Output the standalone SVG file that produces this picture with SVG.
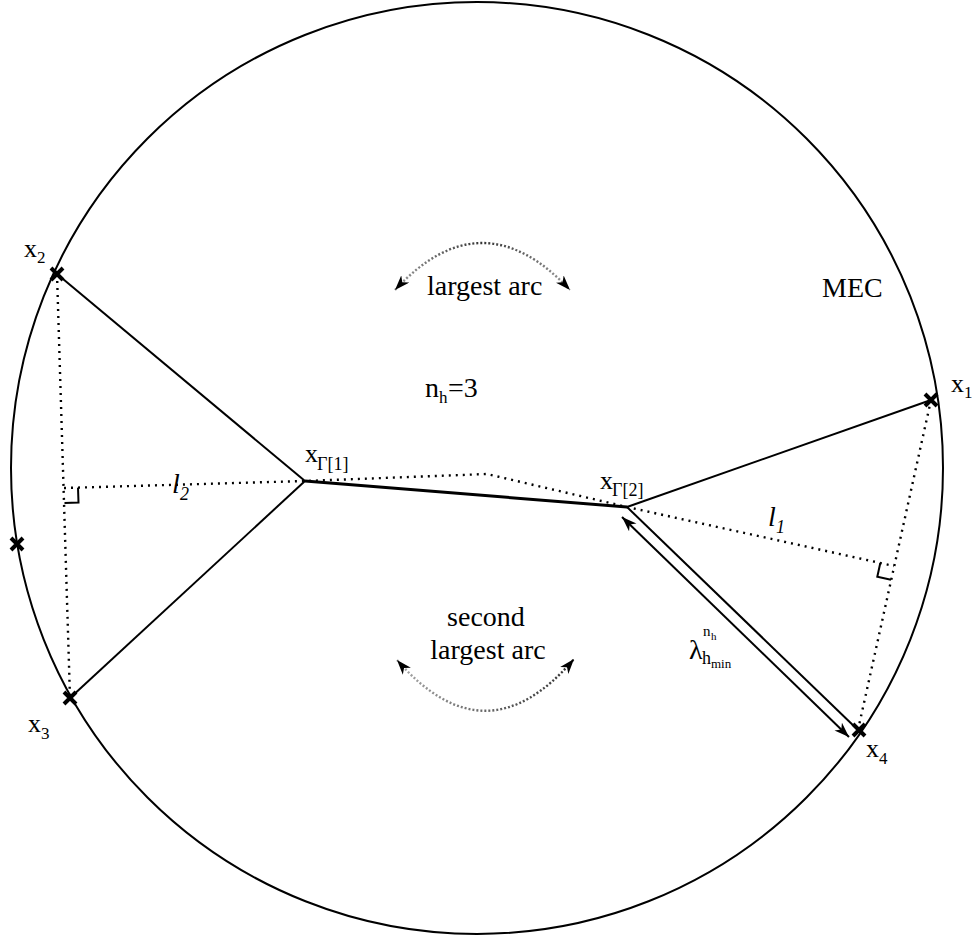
<svg xmlns="http://www.w3.org/2000/svg" width="976" height="936" viewBox="0 0 976 936">
<style>
.t{font-family:"Liberation Serif","DejaVu Serif","Times New Roman",serif;fill:#000}
.solid{stroke:#000;stroke-width:2;fill:none}
.dot{stroke:#000;stroke-width:2.4;stroke-dasharray:2 5;fill:none}
</style>
<defs>
<marker id="ah" viewBox="0 0 14 10" refX="14" refY="5" markerWidth="15" markerHeight="11" markerUnits="userSpaceOnUse" orient="auto-start-reverse">
<path d="M0,0 L14,5 L0,10 L4,5 z" fill="#000"/>
</marker>
<path id="cross" d="M-6,-6 L6,6 M-6,6 L6,-6" stroke="#000" stroke-width="4" fill="none"/>
<linearGradient id="g1" gradientUnits="userSpaceOnUse" x1="395" y1="0" x2="570" y2="0">
<stop offset="0" stop-color="#999"/><stop offset="0.5" stop-color="#333"/><stop offset="1" stop-color="#999"/>
</linearGradient>
<linearGradient id="g2" gradientUnits="userSpaceOnUse" x1="397" y1="0" x2="574" y2="0">
<stop offset="0" stop-color="#aaa"/><stop offset="0.5" stop-color="#666"/><stop offset="1" stop-color="#333"/>
</linearGradient>
</defs>
<g id="mec"><circle cx="477" cy="468" r="466" class="solid"/></g>
<g id="connectors">
<line x1="57" y1="274" x2="305" y2="481" class="solid"/>
<line x1="70" y1="698" x2="305" y2="481" class="solid"/>
<line x1="305" y1="481" x2="627" y2="507" stroke="#000" stroke-width="3"/>
<line x1="627" y1="507" x2="931" y2="400" class="solid"/>
<line x1="627" y1="507" x2="858" y2="730" class="solid"/>
<line x1="622" y1="517" x2="849" y2="737" class="solid" marker-start="url(#ah)" marker-end="url(#ah)"/>
<line x1="57" y1="274" x2="70" y2="698" class="dot"/>
<line x1="931" y1="400" x2="858" y2="730" class="dot"/>
<polyline points="64,488 305,481 487,474 627,507 894,566" class="dot"/>
<polyline points="78,487.6 78.5,502.5 64.5,503" class="solid" stroke-width="2.2"/>
<polyline points="880.3,563 877.3,576.7 891,579.7" class="solid" stroke-width="2.2"/>
<path d="M395,290 Q482,196 570,290" stroke="url(#g1)" stroke-width="2.4" stroke-dasharray="2 2" fill="none" marker-start="url(#ah)" marker-end="url(#ah)"/>
<path d="M397,660 Q486,762 574,659" stroke="url(#g2)" stroke-width="2.4" stroke-dasharray="2 2" fill="none" marker-start="url(#ah)" marker-end="url(#ah)"/>
</g>
<g id="x1"><use href="#cross" x="931" y="400"/><text class="t" x="951" y="392" font-size="26">x</text><text class="t" x="964" y="398" font-size="17">1</text></g>
<g id="x2"><use href="#cross" x="57" y="274"/><text class="t" x="24" y="257" font-size="26">x</text><text class="t" x="37" y="263" font-size="17">2</text></g>
<g id="x3"><use href="#cross" x="70" y="698"/><text class="t" x="28" y="732" font-size="26">x</text><text class="t" x="41" y="739" font-size="17">3</text></g>
<g id="x4"><use href="#cross" x="859" y="730"/><text class="t" x="866" y="757" font-size="26">x</text><text class="t" x="879" y="764" font-size="17">4</text></g>
<g id="x5"><use href="#cross" x="17" y="544"/></g>
<g id="g_1"><text class="t" x="305" y="462" font-size="26">x</text><text class="t" x="317" y="470" font-size="18">Γ[1]</text></g>
<g id="g_2"><text class="t" x="600" y="489" font-size="26">x</text><text class="t" x="612" y="496" font-size="18">Γ[2]</text></g>
<g id="labels">
<text class="t" x="172" y="493" font-size="28" font-style="italic">l</text><text class="t" x="180" y="500" font-size="18" font-style="italic">2</text>
<text class="t" x="768" y="526" font-size="28" font-style="italic">l</text><text class="t" x="776" y="533" font-size="18" font-style="italic">1</text>
<text class="t" x="425" y="397" font-size="28">n</text><text class="t" x="439" y="403" font-size="17">h</text><text class="t" x="448" y="397" font-size="28">=3</text>
<text class="t" x="427" y="295" font-size="28">largest arc</text>
<text class="t" x="486" y="626" font-size="28" text-anchor="middle">second</text>
<text class="t" x="488" y="659" font-size="28" text-anchor="middle">largest arc</text>
<text class="t" x="822" y="297" font-size="28">MEC</text>
<text class="t" x="689" y="659" font-size="28">λ</text>
<text class="t" x="703" y="636" font-size="15">n</text><text class="t" x="711" y="640" font-size="11">h</text>
<text class="t" x="702" y="664" font-size="18">h</text><text class="t" x="711" y="668" font-size="13">min</text>
</g>
</svg>
